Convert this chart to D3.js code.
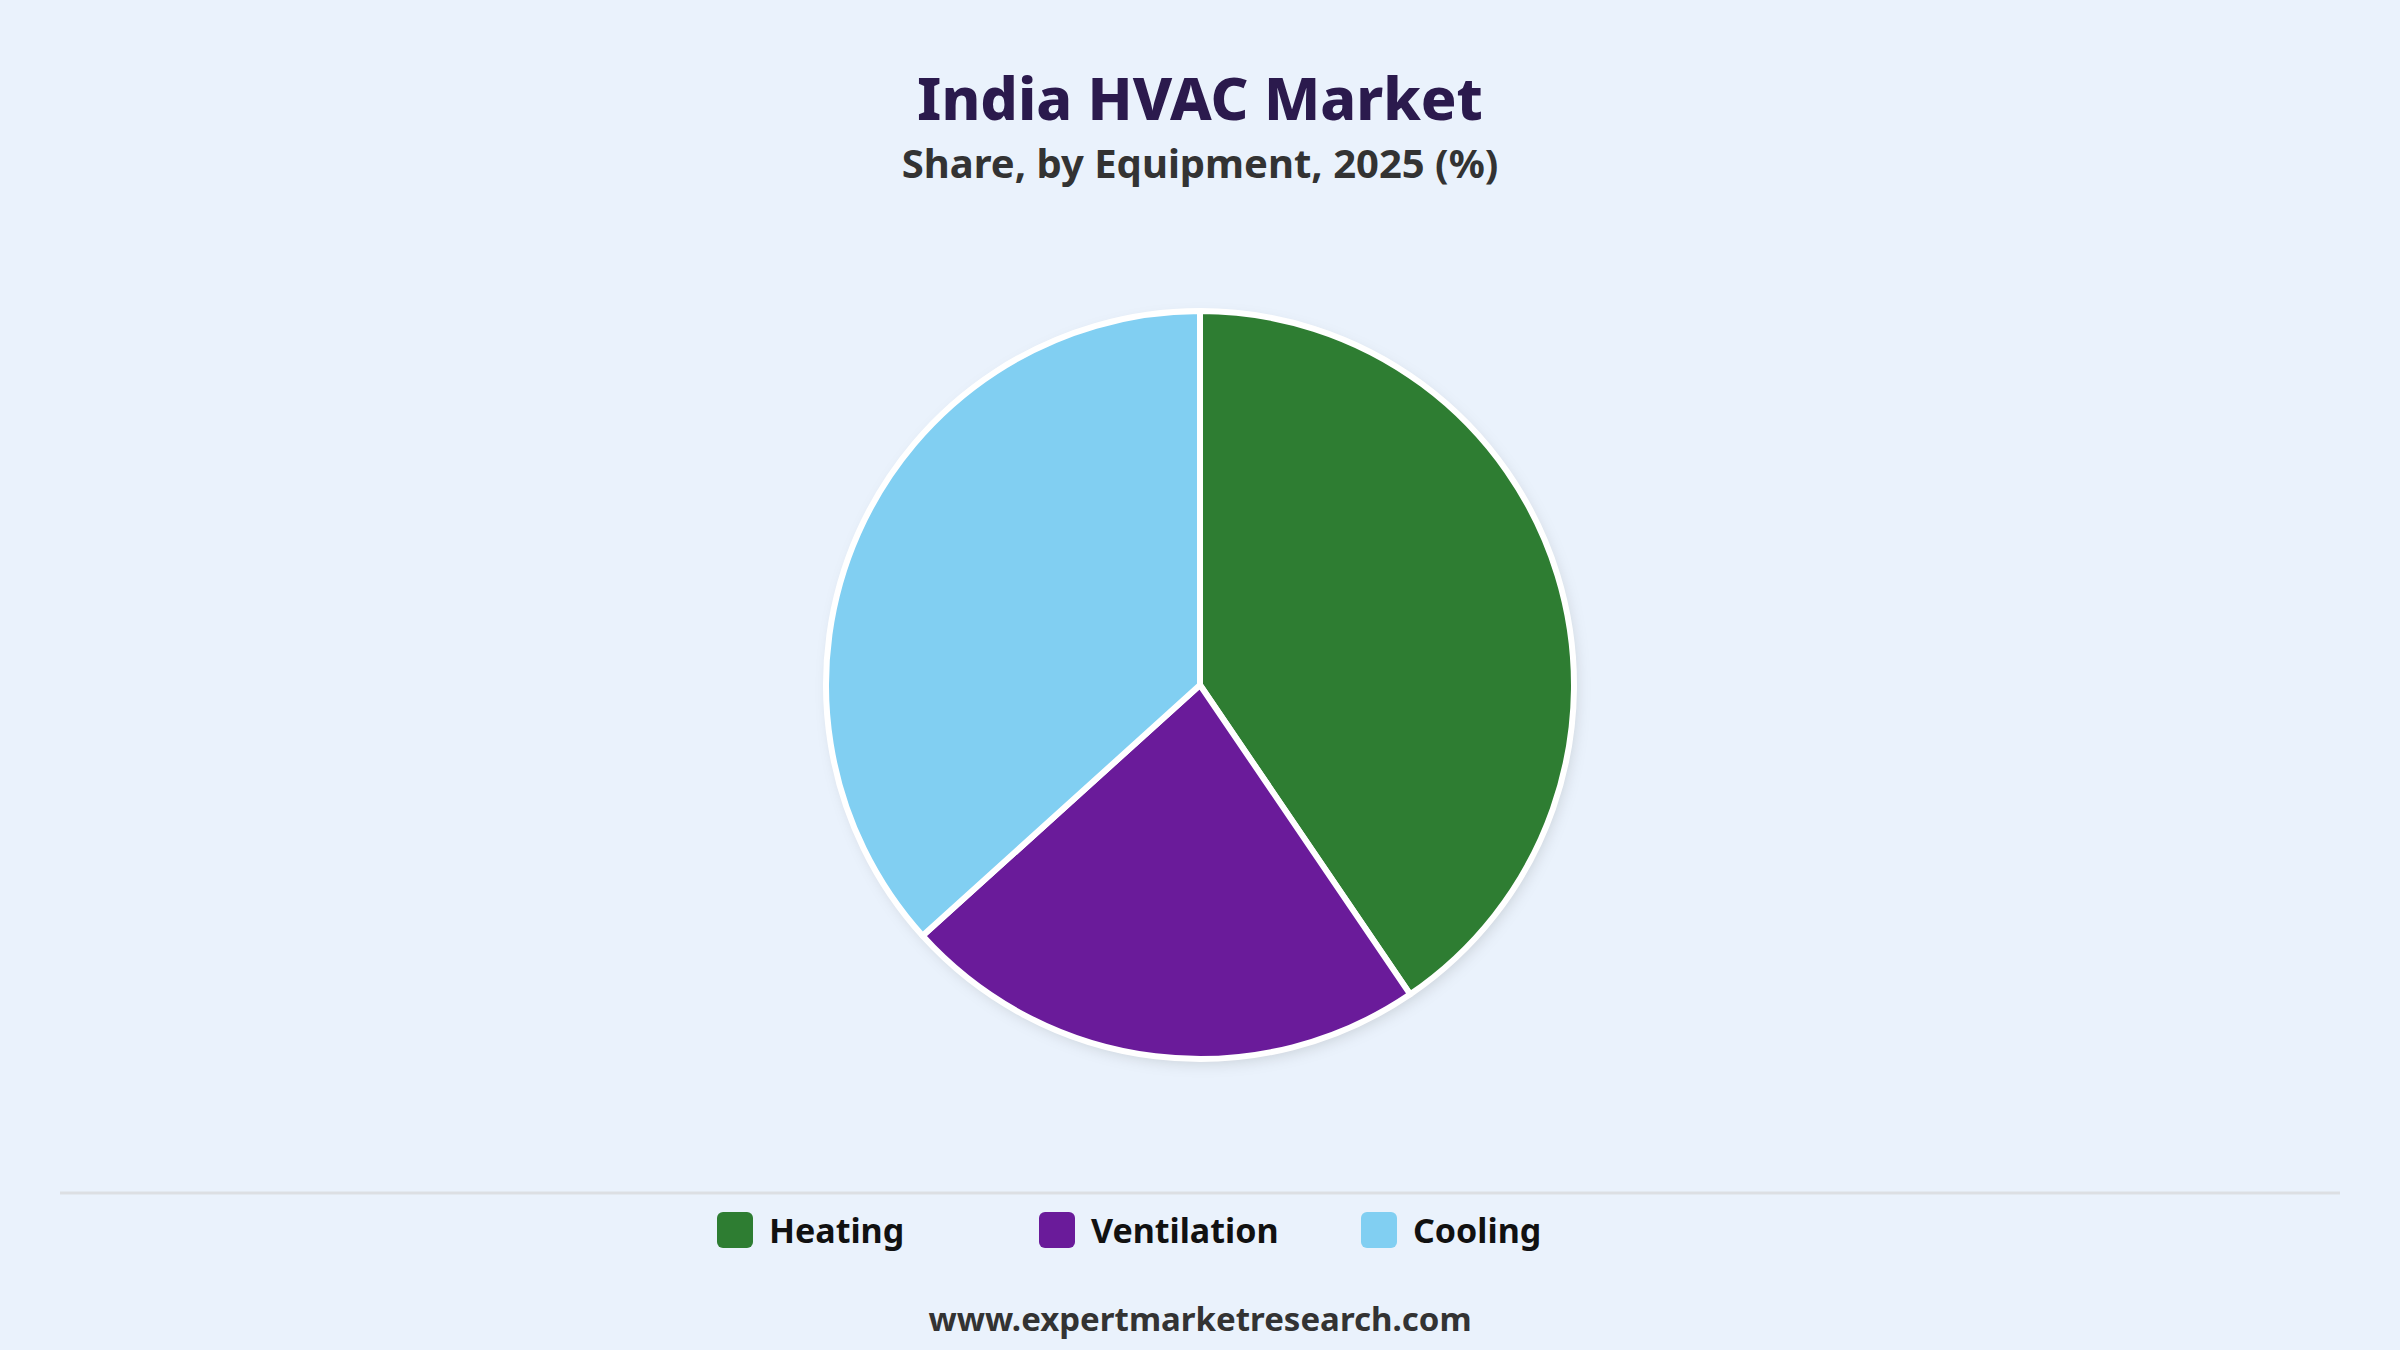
<!DOCTYPE html>
<html>
<head>
<meta charset="utf-8">
<script src="https://cdn.jsdelivr.net/npm/d3@7"></script>
<style>
  html, body { margin: 0; padding: 0; background: #eaf2fc; }
  svg { display: block; font-family: "Noto Sans", "Open Sans", sans-serif; }
</style>
</head>
<body>
<div id="chart"></div>
<script>
// chart size
const FRAME_WIDTH = 2400;
const FRAME_HEIGHT = 1350;

// data
const CATEGORIES = ["Heating", "Ventilation", "Cooling"];
const SHARES = [40.5, 22.8, 36.7];
const COLORS = ["#2e7d32", "#6a1b9a", "#81cff2"];

const TITLE = "India HVAC Market";
const SUBTITLE = "Share, by Equipment, 2025 (%)";
const SOURCE = "www.expertmarketresearch.com";

const PIE_CENTER = {x: 1200, y: 685};
const RADIUS = 374;

const FRAME = d3.select("#chart")
  .append("svg")
  .attr("width", FRAME_WIDTH)
  .attr("height", FRAME_HEIGHT);

// background
FRAME.append("rect")
  .attr("width", FRAME_WIDTH)
  .attr("height", FRAME_HEIGHT)
  .attr("fill", "#eaf2fc");

// soft shadow under the pie
const DEFS = FRAME.append("defs");
const SHADOW = DEFS.append("filter")
  .attr("id", "shadow")
  .attr("x", "-20%").attr("y", "-20%")
  .attr("width", "140%").attr("height", "140%");
SHADOW.append("feDropShadow")
  .attr("dx", 3)
  .attr("dy", 5)
  .attr("stdDeviation", 7)
  .attr("flood-color", "#000")
  .attr("flood-opacity", 0.13);

// titles
FRAME.append("text")
  .attr("x", FRAME_WIDTH / 2)
  .attr("y", 120)
  .attr("text-anchor", "middle")
  .attr("font-size", "59px")
  .attr("font-weight", 800)
  .attr("fill", "#2b1a4d")
  .text(TITLE);

FRAME.append("text")
  .attr("x", FRAME_WIDTH / 2)
  .attr("y", 178)
  .attr("text-anchor", "middle")
  .attr("font-size", "40px")
  .attr("font-weight", 700)
  .attr("fill", "#333333")
  .text(SUBTITLE);

// pie
const DATA = CATEGORIES.map((c, i) => ({name: c, value: SHARES[i], color: COLORS[i]}));

const PIE = d3.pie()
  .sort(null)
  .value((d) => d.value);

const ARC = d3.arc()
  .innerRadius(0)
  .outerRadius(RADIUS);

const PIE_G = FRAME.append("g")
  .attr("transform", "translate(" + PIE_CENTER.x + "," + PIE_CENTER.y + ")");

PIE_G.append("circle")
  .attr("r", RADIUS)
  .attr("fill", "#ffffff")
  .attr("filter", "url(#shadow)");

PIE_G.selectAll("slices")
  .data(PIE(DATA))
  .enter()
  .append("path")
  .attr("d", ARC)
  .attr("fill", (d) => d.data.color)
  .attr("stroke", "#ffffff")
  .attr("stroke-width", 6)
  .attr("stroke-linejoin", "round");

// divider line above legend
FRAME.append("line")
  .attr("x1", 60)
  .attr("x2", 2340)
  .attr("y1", 1193)
  .attr("y2", 1193)
  .attr("stroke", "#dcdfe3")
  .attr("stroke-width", 3);

// legend
const LEGEND_X = d3.scalePoint()
  .domain(CATEGORIES)
  .range([717, 1361]);

const LEGEND = FRAME.selectAll("legend")
  .data(DATA)
  .enter()
  .append("g")
  .attr("transform", (d) => "translate(" + LEGEND_X(d.name) + ",1212)");

LEGEND.append("rect")
  .attr("width", 36)
  .attr("height", 36)
  .attr("rx", 6)
  .attr("fill", (d) => d.color);

LEGEND.append("text")
  .attr("x", 52)
  .attr("y", 31)
  .attr("font-size", "34px")
  .attr("font-weight", 700)
  .attr("fill", "#111111")
  .text((d) => d.name);

// source
FRAME.append("text")
  .attr("x", FRAME_WIDTH / 2)
  .attr("y", 1331)
  .attr("text-anchor", "middle")
  .attr("font-size", "33px")
  .attr("font-weight", 700)
  .attr("fill", "#333333")
  .text(SOURCE);
</script>
</body>
</html>
